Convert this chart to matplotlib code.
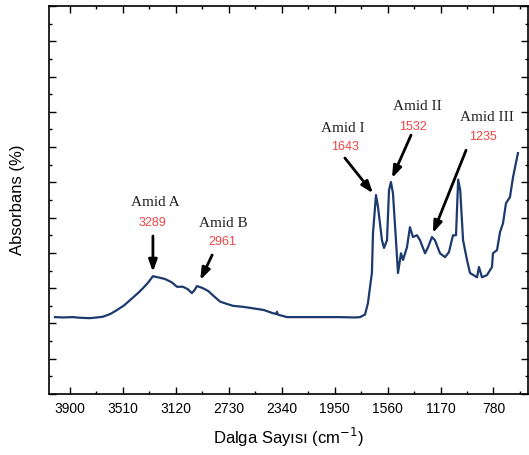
import matplotlib
matplotlib.use("Agg")
import matplotlib.pyplot as plt
from matplotlib.ticker import MultipleLocator, NullFormatter

# === DATA ===
wavenumber = [4008, 3950, 3876, 3820, 3751, 3700, 3655, 3600, 3552, 3500,
              3456, 3400, 3360, 3320, 3287, 3240, 3198, 3150, 3110, 3066,
              3030, 3000, 2980, 2963, 2940, 2919, 2880, 2852, 2793, 2740,
              2698, 2620, 2551, 2470, 2403, 2380, 2374, 2367, 2300, 2153,
              2000, 1910, 1800, 1763, 1726, 1704, 1690, 1675, 1667, 1645,
              1630, 1601, 1586, 1564, 1549, 1535, 1520, 1498, 1483, 1461,
              1446, 1417, 1395, 1373, 1343, 1321, 1284, 1262, 1233, 1211,
              1174, 1137, 1108, 1078, 1056, 1040, 1025, 1004, 975, 953,
              901, 887, 865, 828, 791, 784, 754, 732, 710, 688,
              659, 636, 600]
absorbance = [2.18, 2.17, 2.18, 2.16, 2.15, 2.17, 2.19, 2.27, 2.38, 2.51,
              2.66, 2.85, 3.00, 3.17, 3.34, 3.30, 3.26, 3.17, 3.04, 3.04,
              2.97, 2.86, 2.95, 3.06, 3.03, 3.00, 2.92, 2.82, 2.62, 2.55,
              2.50, 2.47, 2.43, 2.38, 2.29, 2.27, 2.33, 2.25, 2.18, 2.18,
              2.18, 2.18, 2.17, 2.18, 2.25, 2.58, 3.00, 3.43, 4.56, 5.64,
              5.30, 4.36, 4.14, 4.36, 5.78, 6.01, 5.69, 4.36, 3.43, 3.99,
              3.80, 4.16, 4.73, 4.45, 4.50, 4.36, 3.99, 4.16, 4.45, 4.36,
              3.99, 3.88, 4.02, 4.50, 4.50, 6.08, 5.78, 4.36, 3.80, 3.43,
              3.31, 3.60, 3.31, 3.37, 3.60, 3.99, 4.08, 4.59, 4.84, 5.41,
              5.58, 6.15, 6.83]

# peak labels: name, value text, label position, arrow tail, arrow tip
peak_names = ["Amid A", "Amid B", "Amid I", "Amid II", "Amid III"]
peak_values = ["3289", "2961", "1643", "1532", "1235"]
name_pos = [(3272, 5.44), (2771, 4.84), (1888, 7.54), (1343, 8.16), (828, 7.85)]
value_pos = [(3287, 4.84), (2779, 4.31), (1875, 7.00), (1373, 7.56), (857, 7.28)]
arrow_tail = [(3287, 4.48), (2851, 3.94), (1874, 6.69), (1387, 7.34), (982, 6.91)]
arrow_tip = [(3287, 3.46), (2939, 3.23), (1667, 5.69), (1527, 6.12), (1226, 4.56)]

# === FIGURE ===
fig = plt.figure(figsize=(5.29, 4.55), dpi=100)
ax = fig.add_axes([49 / 529, 61 / 455, 479 / 529, 388 / 455])

ax.plot(wavenumber, absorbance, color="#1c3a6e", lw=1.6)

for name, val, npos, vpos, tail, tip in zip(peak_names, peak_values, name_pos,
                                             value_pos, arrow_tail, arrow_tip):
    ax.text(*npos, name, family="Liberation Serif", fontsize=11,
            ha="center", va="center", color="#222222")
    ax.text(*vpos, val, family="Liberation Sans", fontsize=9,
            ha="center", va="center", color="#f24444")
    ax.annotate("", xy=tip, xytext=tail,
                arrowprops=dict(arrowstyle="-|>,head_length=0.7,head_width=0.25",
                                color="black", lw=2, shrinkA=0, shrinkB=0))

ax.set_xlim(4052, 526)
ax.set_ylim(0, 11)
ax.xaxis.set_major_locator(MultipleLocator(390))
ax.xaxis.set_minor_locator(MultipleLocator(195))
ax.yaxis.set_major_locator(MultipleLocator(1))
ax.yaxis.set_minor_locator(MultipleLocator(0.5))
ax.yaxis.set_major_formatter(NullFormatter())

ax.tick_params(which="both", direction="in", top=True, right=True, width=1)
ax.tick_params(which="major", length=5)
ax.tick_params(which="minor", length=2.5)
ax.tick_params(axis="x", labelsize=10, pad=6)
for lab in ax.get_xticklabels():
    lab.set_family("Liberation Sans")
for s in ax.spines.values():
    s.set_linewidth(1.2)

ax.set_xlabel("Dalga Sayısı (cm$^{-1}$)", family="Liberation Sans",
              fontsize=12, labelpad=7)
ax.set_ylabel("Absorbans (%)", family="Liberation Sans", fontsize=12,
              labelpad=14)

fig.savefig("out.png", dpi=100)
